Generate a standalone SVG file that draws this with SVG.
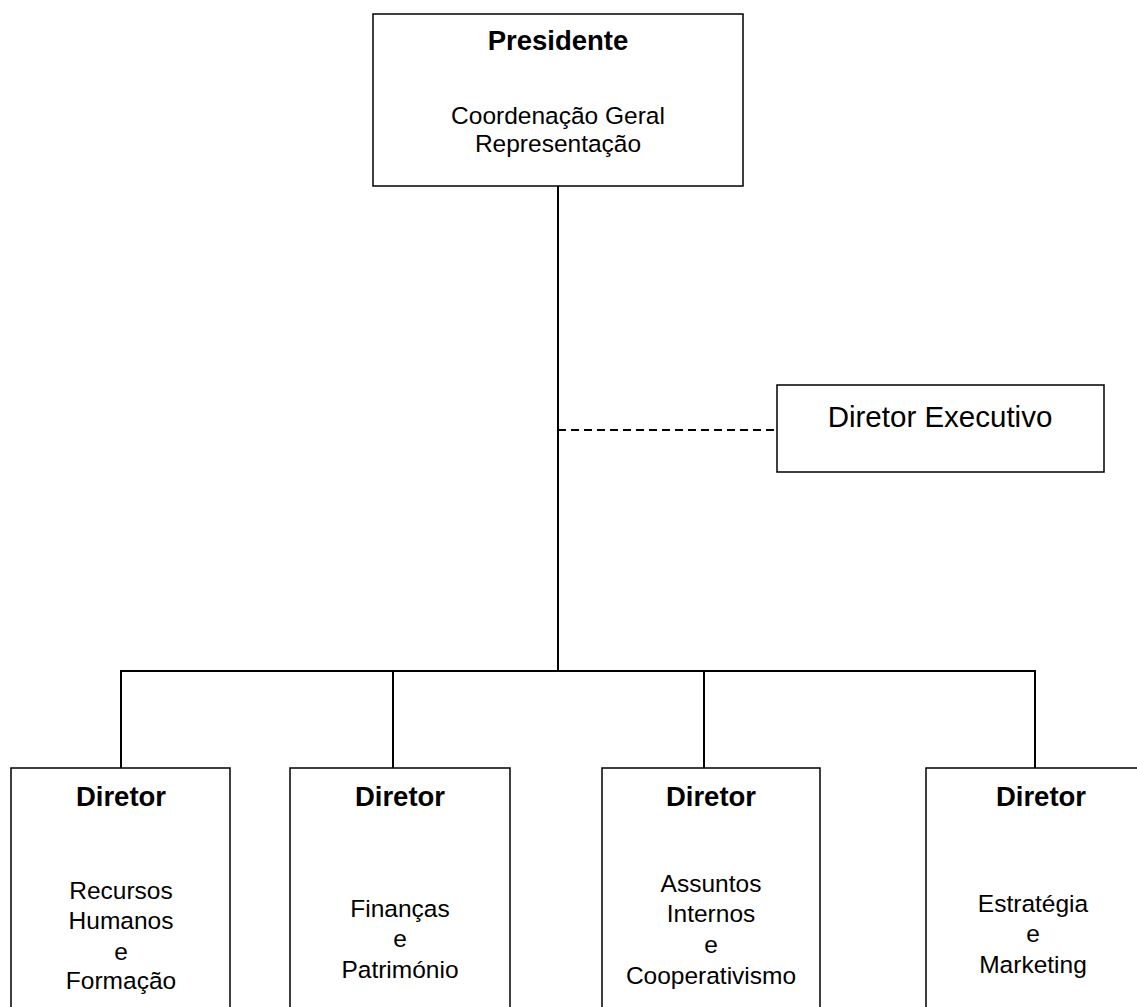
<svg xmlns="http://www.w3.org/2000/svg" width="1137" height="1007" viewBox="0 0 1137 1007">
<style>
.box{fill:#fff;stroke:#000;stroke-width:1.5}
.ln{fill:none;stroke:#000;stroke-width:2}
.dash{fill:none;stroke:#000;stroke-width:2;stroke-dasharray:8 5}
text{font-family:"Liberation Sans",Arial,sans-serif;fill:#000;text-anchor:middle}
.h{font-size:27.5px;font-weight:bold}
.b{font-size:24.5px}
.x{font-size:29.5px}
</style>
<rect width="1137" height="1007" fill="#fff"/>
<g id="connectors">
<line class="ln" x1="558" y1="186" x2="558" y2="671"/>
<line class="dash" x1="558" y1="430" x2="777" y2="430"/>
<line class="ln" x1="120" y1="671" x2="1036" y2="671"/>
<line class="ln" x1="121" y1="671" x2="121" y2="768"/>
<line class="ln" x1="393" y1="671" x2="393" y2="768"/>
<line class="ln" x1="704" y1="671" x2="704" y2="768"/>
<line class="ln" x1="1035" y1="671" x2="1035" y2="768"/>
</g>
<g id="presidente">
<rect class="box" x="373" y="14" width="370" height="172"/>
<text class="h" x="558" y="50">Presidente</text>
<text class="b" x="558" y="124">Coordenação Geral</text>
<text class="b" x="558" y="152">Representação</text>
</g>
<g id="diretor-executivo">
<rect class="box" x="777" y="385" width="327" height="87"/>
<text class="x" x="940" y="427">Diretor Executivo</text>
</g>
<g id="diretor-rh">
<rect class="box" x="11" y="768" width="219" height="250"/>
<text class="h" x="121" y="806">Diretor</text>
<text class="b" x="121" y="899">Recursos</text>
<text class="b" x="121" y="929">Humanos</text>
<text class="b" x="121" y="960">e</text>
<text class="b" x="121" y="989">Formação</text>
</g>
<g id="diretor-financas">
<rect class="box" x="290" y="768" width="220" height="250"/>
<text class="h" x="400" y="806">Diretor</text>
<text class="b" x="400" y="917">Finanças</text>
<text class="b" x="400" y="947">e</text>
<text class="b" x="400" y="978">Património</text>
</g>
<g id="diretor-assuntos">
<rect class="box" x="602" y="768" width="218" height="250"/>
<text class="h" x="711" y="806">Diretor</text>
<text class="b" x="711" y="892">Assuntos</text>
<text class="b" x="711" y="922">Internos</text>
<text class="b" x="711" y="953">e</text>
<text class="b" x="711" y="984">Cooperativismo</text>
</g>
<g id="diretor-estrategia">
<rect class="box" x="926" y="768" width="219" height="250"/>
<text class="h" x="1041" y="806">Diretor</text>
<text class="b" x="1033" y="912">Estratégia</text>
<text class="b" x="1033" y="942">e</text>
<text class="b" x="1033" y="973">Marketing</text>
</g>
</svg>
